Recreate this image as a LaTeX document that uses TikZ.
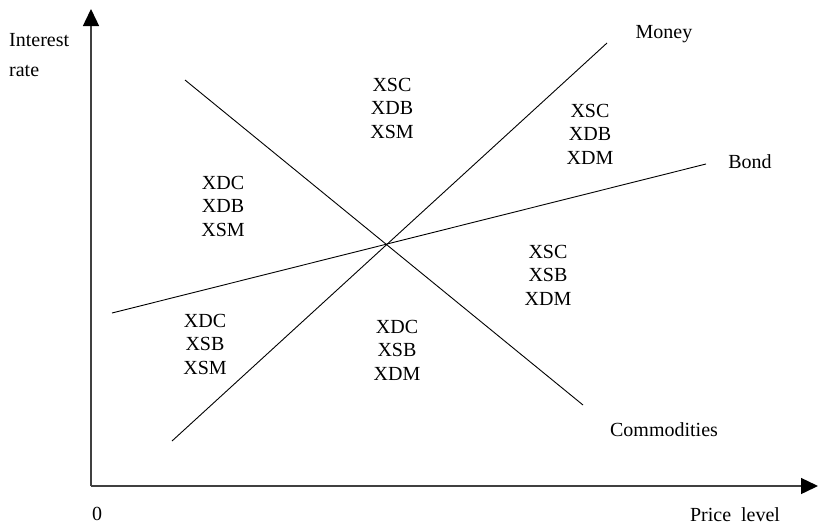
\documentclass[tikz,border=0pt]{standalone}
\usepackage{fontspec}
\setmainfont{Liberation Serif}
\usepackage{tikz}
\usetikzlibrary{arrows.meta, positioning}
\tikzstyle{axis} = [line width=1.4pt, draw=black!75, -{Triangle[width=16pt,length=17pt,color=black]}]
\tikzstyle{curve} = [line width=0.9pt]
\tikzstyle{label} = [inner sep=0pt, font=\fontsize{20}{23.5}\selectfont]
\tikzstyle{stack} = [label, align=center]

\begin{document}
\begin{tikzpicture}[x=1pt, y=-1pt]
    \useasboundingbox (0,0) rectangle (818,528);
    % Axes
    \coordinate (origin) at (91,486);
    \coordinate (ytop) at (91,9);
    \coordinate (xend) at (818,486);
    \draw [axis] (origin) -- (ytop);
    \draw [axis] (origin) -- (xend);

    % Lines
    \coordinate (m1) at (172,441);
    \coordinate (m2) at (607,43);
    \coordinate (b1) at (112,313);
    \coordinate (b2) at (706,164);
    \coordinate (c1) at (185,80);
    \coordinate (c2) at (583,405);
    \draw [curve] (m1) -- (m2);
    \draw [curve] (b1) -- (b2);
    \draw [curve] (c1) -- (c2);

    % Nodes
    \node (money) [label] at (664,34) {Money};
    \node (bond) [label] at (750,162) {Bond};
    \node (comm) [label] at (664,430) {Commodities};
    \node (zero) [label] at (97,514) {0};
    \node (price) [label] at (735,515) {Price~~level};
    \node (rate) [label, align=left, anchor=north west, font=\fontsize{20}{30}\selectfont] at (9,33) {Interest\\rate};

    \node (top) [stack] at (392,108) {XSC\\XDB\\XSM};
    \node (upright) [stack] at (590,134) {XSC\\XDB\\XDM};
    \node (left) [stack] at (223,206) {XDC\\XDB\\XSM};
    \node (right) [stack] at (548,275) {XSC\\XSB\\XDM};
    \node (lowleft) [stack] at (205,344) {XDC\\XSB\\XSM};
    \node (bottom) [stack] at (397,350) {XDC\\XSB\\XDM};
\end{tikzpicture}
\end{document}
